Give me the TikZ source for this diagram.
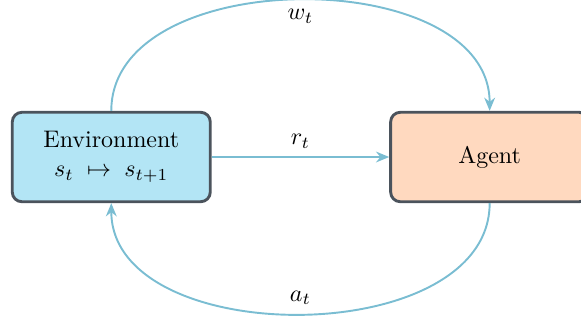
\documentclass[tikz,border=0pt]{standalone}
\usepackage{amsmath}
\usepackage{amssymb}
\usepackage{tikz}
\usetikzlibrary{positioning,arrows.meta}

\definecolor{envblue}{HTML}{B3E5F5}
\definecolor{agentpeach}{HTML}{FFD9BF}
\definecolor{boxgray}{HTML}{4B535C}
\definecolor{linkblue}{HTML}{7ABDD2}

\begin{document}
\begin{tikzpicture}[
  box/.style={draw=boxgray, very thick, rounded corners=4pt, minimum width=2.9cm, minimum height=1.31cm, align=center},
  link/.style={-{Stealth[length=5.5pt,width=4.5pt]}, draw=linkblue, thick},
  lbl/.style={text=black}
]

    % Cadre
    \useasboundingbox (0,0) rectangle (8.51,4.69);

    % Boites
    \node[box, fill=envblue] (env) at (1.63,2.39) {Environment\\ $s_t \;\mapsto\; s_{t+1}$};
    \node[box, fill=agentpeach, right=2.6cm of env] (agent) {Agent};

    % Recompense r_t
    \draw[link] (env) -- (agent) node[lbl, midway, above] {$r_t$};

    % Fleche du haut w_t
    \draw[link] (env.north) to[out=90, in=90] node[lbl, midway, below] {$w_t$} (agent.north);

    % Action a_t
    \draw[link] (agent.south) to[out=-90, in=-90] node[lbl, midway, above] {$a_t$} (env.south);

\end{tikzpicture}
\end{document}
